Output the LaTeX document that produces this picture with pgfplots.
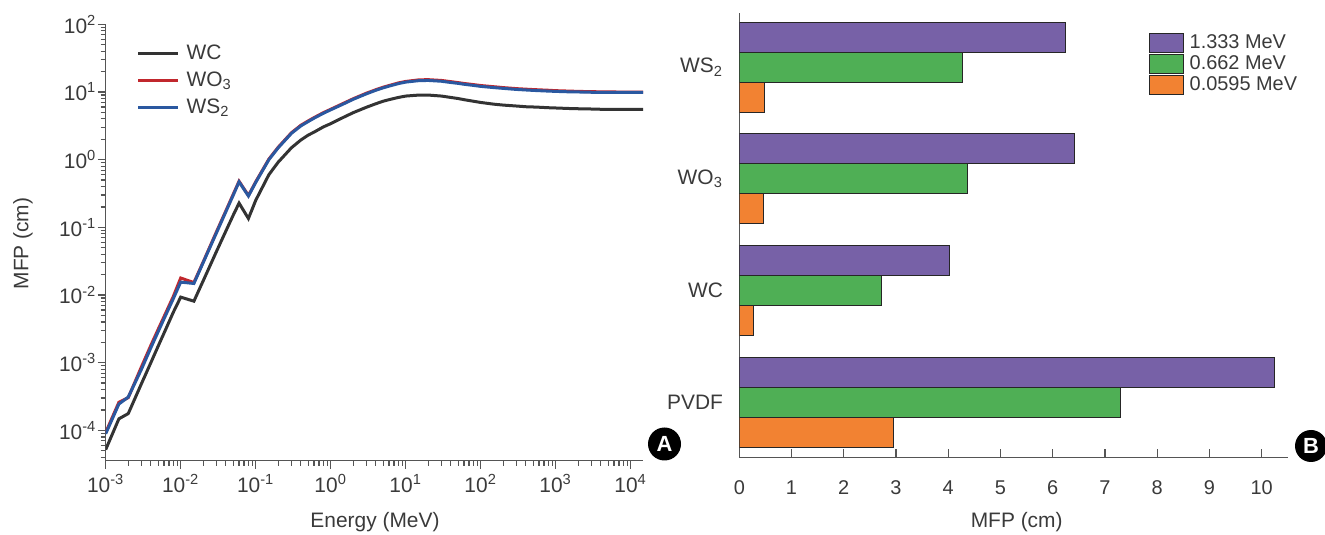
\documentclass[border=0pt]{standalone}
\usepackage{pgfplots}
\usepackage{pgfplotstable}
\pgfplotsset{compat=1.18}
\usepackage{fontspec}
\setmainfont{Liberation Sans}
\definecolor{txt}{HTML}{3A3A3A}
\definecolor{axisgray}{HTML}{555555}
\definecolor{cWC}{HTML}{333333}
\definecolor{cWO}{HTML}{C1272D}
\definecolor{cWS}{HTML}{2A58A0}
\definecolor{purp}{HTML}{7761A7}
\definecolor{grn}{HTML}{4FAF55}
\definecolor{org}{HTML}{F28232}
\definecolor{edge}{HTML}{262626}

\pgfplotstableread{
E      WC       WO3      WS2
0.001  5.2e-5   9.3e-5   8.9e-5
0.0015 1.48e-4  2.6e-4   2.45e-4
0.002  1.77e-4  3.05e-4  3.1e-4
0.003  4.9e-4   8.7e-4   8.0e-4
0.004  1.0e-3   1.8e-3   1.66e-3
0.005  1.75e-3  3.1e-3   2.86e-3
0.006  2.74e-3  4.8e-3   4.46e-3
0.008  5.6e-3   9.6e-3   8.9e-3
0.01   9.3e-3   0.0178   0.0155
0.015  8.1e-3   0.0153   0.0148
0.02   0.0163   0.031    0.0303
0.03   0.044    0.086    0.083
0.04   0.088    0.175    0.17
0.05   0.15     0.305    0.296
0.06   0.228    0.48     0.47
0.08   0.135    0.295    0.29
0.1    0.25     0.47     0.46
0.15   0.6      1.02     1.0
0.2    0.92     1.53     1.5
0.3    1.5      2.5      2.45
0.4    1.95     3.22     3.15
0.5    2.3      3.73     3.65
0.6    2.55     4.18     4.1
0.8    3.05     4.95     4.85
1      3.4      5.55     5.45
1.25   3.85     6.23     6.1
1.5    4.25     6.85     6.7
2      4.95     7.95     7.8
3      5.95     9.6      9.4
4      6.7      10.8     10.6
5      7.3      11.75    11.5
6      7.7      12.45    12.2
8      8.3      13.6     13.3
10     8.7      14.3     14.0
15     9.0      15.1     14.7
20     9.0      15.2     14.8
30     8.7      14.8     14.4
40     8.3      14.2     13.8
50     8.0      13.75    13.4
60     7.7      13.35    13.0
80     7.3      12.85    12.5
100    7.0      12.45    12.1
150    6.6      11.95    11.6
200    6.4      11.6     11.3
300    6.2      11.2     10.9
400    6.05     11.0     10.7
500    6.0      10.85    10.55
600    5.95     10.75    10.45
800    5.85     10.6     10.3
1000   5.8      10.45    10.2
1500   5.7      10.3     10.05
2000   5.65     10.2     10.0
3000   5.6      10.1     9.9
4000   5.55     10.05    9.9
5000   5.55     10.0     9.9
6000   5.55     10.0     9.9
8000   5.55     9.95     9.9
10000  5.55     9.95     9.9
15000  5.55     9.95     9.9
}\mfp

\pgfplotstableread{
y  high  mid   low
0  10.24 7.30  2.96
1  4.02  2.72  0.27
2  6.41  4.365 0.467
3  6.25  4.28  0.48
}\bars

\begin{document}
\begin{tikzpicture}
\useasboundingbox (0bp,0bp) rectangle (662.5bp,267.5bp);

\begin{axis}[
  at={(52.85bp,37.15bp)}, anchor=south west,
  scale only axis, width=268.65bp, height=218.2bp,
  xmode=log, ymode=log,
  xmin=1e-3, xmax=14600, ymin=3.56e-5, ymax=100,
  axis x line*=bottom, axis y line*=left,
  axis line style={draw=axisgray, line width=0.7bp},
  tick align=outside,
  major tick length=4bp, minor tick length=2.5bp,
  every tick/.style={draw=axisgray, line width=0.6bp},
  xtick={1e-3,1e-2,1e-1,1,10,100,1000,10000},
  xticklabels={10\textsuperscript{-3},10\textsuperscript{-2},10\textsuperscript{-1},10\textsuperscript{0},10\textsuperscript{1},10\textsuperscript{2},10\textsuperscript{3},10\textsuperscript{4}},
  minor xtick={0.002,0.003,0.004,0.005,0.006,0.007,0.008,0.009,0.02,0.03,0.04,0.05,0.06,0.07,0.08,0.09,0.2,0.3,0.4,0.5,0.6,0.7,0.8,0.9,2,3,4,5,6,7,8,9,20,30,40,50,60,70,80,90,200,300,400,500,600,700,800,900,2000,3000,4000,5000,6000,7000,8000,9000},
  ytick={1e-4,1e-3,1e-2,1e-1,1,10,100},
  yticklabels={10\textsuperscript{-4},10\textsuperscript{-3},10\textsuperscript{-2},10\textsuperscript{-1},10\textsuperscript{0},10\textsuperscript{1},10\textsuperscript{2}},
  minor ytick={4e-5,5e-5,6e-5,7e-5,8e-5,9e-5,2e-4,3e-4,4e-4,5e-4,6e-4,7e-4,8e-4,9e-4,2e-3,3e-3,4e-3,5e-3,6e-3,7e-3,8e-3,9e-3,0.02,0.03,0.04,0.05,0.06,0.07,0.08,0.09,0.2,0.3,0.4,0.5,0.6,0.7,0.8,0.9,2,3,4,5,6,7,8,9,20,30,40,50,60,70,80,90},
  xticklabel style={font=\fontsize{10.5}{12}\selectfont, text=txt, inner sep=0pt, yshift=-2.8bp},
  yticklabel style={font=\fontsize{10.5}{12}\selectfont, text=txt, inner sep=0pt, xshift=-0.5bp},
  legend style={at={(axis description cs:0.0577,0.9565)}, anchor=north west, draw=none, fill=none,
    inner sep=0pt, outer sep=0pt, row sep=3.6bp,
    font=\fontsize{10.5}{12}\selectfont, text=txt,
    nodes={inner sep=0pt, text height=8bp, text depth=2bp}},
  legend cell align=left,
  legend image code/.code={\draw[#1] (0bp,0bp) -- (20bp,0bp);},
  legend columns=1,
]
\addplot[cWC, line width=1.5bp] table[x=E, y=WC] {\mfp};
\addlegendentry{\hspace{3.5bp}WC}
\addplot[cWO, line width=1.5bp] table[x=E, y=WO3] {\mfp};
\addlegendentry{\hspace{3.5bp}WO\textsubscript{3}}
\addplot[cWS, line width=1.5bp] table[x=E, y=WS2] {\mfp};
\addlegendentry{\hspace{3.5bp}WS\textsubscript{2}}
\end{axis}

\begin{axis}[
  at={(369.65bp,38.85bp)}, anchor=south west,
  scale only axis, width=274.2bp, height=222.3bp,
  xmin=0, xmax=10.5, ymin=-0.4925, ymax=3.489,
  axis x line*=bottom, axis y line*=left,
  axis line style={draw=axisgray, line width=0.7bp},
  xbar, bar width=0.2687,
  tick align=inside,
  major tick length=4bp,
  /pgf/number format/assume math mode=true,
  xtick={1,2,3,4,5,6,7,8,9,10},
  extra x ticks={0}, extra x tick style={tick style={draw=none}},
  every tick/.style={draw=axisgray, line width=0.6bp},
  ytick={0,1,2,3},
  yticklabels={PVDF,WC,WO\textsubscript{3},WS\textsubscript{2}},
  y tick style={draw=none},
  xticklabel style={font=\fontsize{10}{12}\selectfont, text=txt, inner sep=0pt, yshift=-11.3bp},
  yticklabel style={font=\fontsize{10.5}{12}\selectfont, text=txt, inner sep=0pt, xshift=-8bp},
  legend style={at={(axis description cs:0.7476,0.9537)}, anchor=north west, draw=none, fill=none,
    inner sep=0pt, outer sep=0pt, row sep=0.4bp,
    font=\fontsize{10}{12}\selectfont, text=txt,
    nodes={inner sep=0pt, text height=7.5bp, text depth=2.2bp}},
  legend cell align=left,
  legend image code/.code={\draw[#1] (0bp,-4.8bp) rectangle (16.7bp,4.8bp);},
]
\addplot[fill=purp, draw=edge, line width=0.5bp, bar shift=0.2687] table[x=high, y=y] {\bars};
\addlegendentry{\hspace{3bp}1.333 MeV}
\addplot[fill=grn, draw=edge, line width=0.5bp, bar shift=0] table[x=mid, y=y] {\bars};
\addlegendentry{\hspace{3bp}0.662 MeV}
\addplot[fill=org, draw=edge, line width=0.5bp, bar shift=-0.2687] table[x=low, y=y] {\bars};
\addlegendentry{\hspace{3bp}0.0595 MeV}
\end{axis}

\node[text=txt, font=\fontsize{10.5}{12}\selectfont] at (187.5bp,6.65bp) {Energy (MeV)};
\node[text=txt, font=\fontsize{10.5}{12}\selectfont, rotate=90] at (11.5bp,145.75bp) {MFP (cm)};
\node[text=txt, font=\fontsize{10.5}{12}\selectfont] at (508.35bp,6.5bp) {MFP (cm)};
\node[circle, fill=black, text=white, inner sep=0pt, minimum size=16.5bp, font=\fontsize{11}{12}\selectfont\bfseries] at (332.25bp,45.5bp) {A};
\node[circle, fill=black, text=white, inner sep=0pt, minimum size=16bp, font=\fontsize{11}{12}\selectfont\bfseries] at (655.5bp,44.5bp) {B};
\end{tikzpicture}
\end{document}
